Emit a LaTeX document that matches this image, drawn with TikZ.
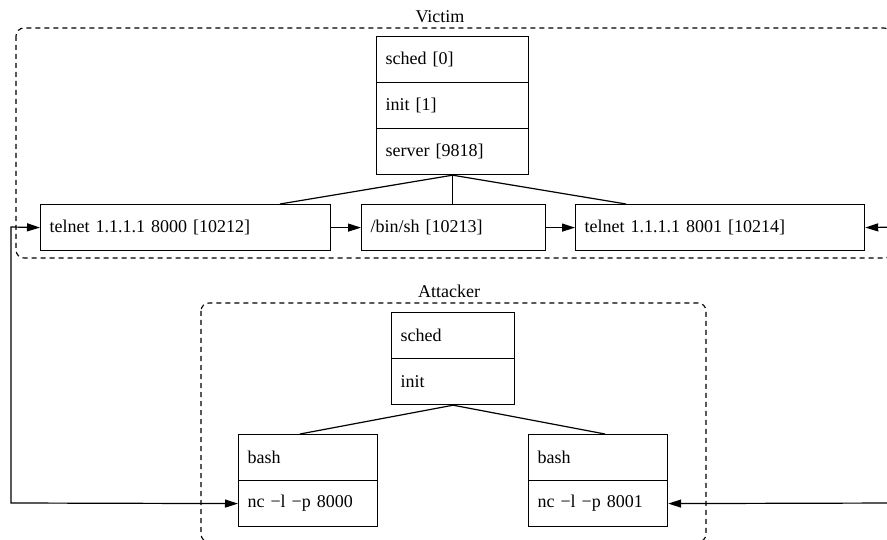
\documentclass[tikz,border=0pt]{standalone}
\usepackage{fontspec}
\setmainfont{Liberation Serif}
\usetikzlibrary{arrows.meta}
\tikzset{
  recbox/.style={draw, line width=1.2pt, rectangle, anchor=north west, inner xsep=9pt, inner ysep=0pt,
    minimum height=46pt, align=left, font=\fontsize{18}{20}\selectfont},
  cluster/.style={draw, line width=1.1pt, dash pattern=on 5pt off 4pt, rounded corners=8pt},
  clabel/.style={font=\fontsize{18}{20}\selectfont, inner sep=0pt},
  tree/.style={line width=1.2pt},
  tip/.style={},
  flow/.style={line width=1.2pt, -{Triangle[length=13pt,width=8pt]}},
  flow2/.style={line width=1.2pt, {Triangle[length=13pt,width=8pt]}-{Triangle[length=13pt,width=8pt]}}
}
\begin{document}
\begin{tikzpicture}[x=1pt,y=-1pt]
\useasboundingbox (0,0) rectangle (887,540);
\clip (0,0) rectangle (887,540);
\fill[white] (0,0) rectangle (887,540);
% clusters
\draw[cluster] (16,28) rectangle (892,258);
\node[clabel] (victim) at (440,17) {Victim};
\draw[cluster] (201,303) rectangle (706,542);
\node[clabel] (attacker) at (449,291) {Attacker};
% victim processes
\node[recbox, text width=134pt] (vsched) at (376,36) {sched [0]};
\node[recbox, text width=134pt] (vinit) at (376,82) {init [1]};
\node[recbox, text width=134pt] (vserver) at (376,128) {server [9818]};
\node[recbox, text width=272pt] (t0) at (40,204) {telnet 1.1.1.1 8000 [10212]};
\node[recbox, text width=166pt] (sh) at (361,204) {/bin/sh [10213]};
\node[recbox, text width=271pt] (t1) at (575,204) {telnet 1.1.1.1 8001 [10214]};
% attacker processes
\node[recbox, text width=105pt] (asched) at (391,312) {sched};
\node[recbox, text width=105pt] (ainit) at (391,358) {init};
\node[recbox, text width=121pt] (bash0) at (238,434) {bash};
\node[recbox, text width=121pt] (nc0) at (238,480) {nc −l −p 8000};
\node[recbox, text width=121pt] (bash1) at (528,434) {bash};
\node[recbox, text width=121pt] (nc1) at (528,480) {nc −l −p 8001};
% tree edges
\draw[tree] (vserver.south) -- (t0.north -| 280,0);
\draw[tree] (vserver.south) -- (vserver.south |- sh.north);
\draw[tree] (vserver.south) -- (t1.north -| 626,0);
\draw[tree] (ainit.south) -- (bash0.north -| 300,0);
\draw[tree] (ainit.south) -- (bash1.north -| 605,0);
% data flows
\draw[flow] (t0) -- (sh);
\draw[flow] (sh) -- (t1);
\coordinate (lc1) at (11,227);
\coordinate (lc2) at (11,503);
\coordinate (rc1) at (900,227);
\coordinate (rc2) at (900,503);
\draw[flow2] (t0.west) -- (lc1) -- (lc2) -- (nc0.west);
\draw[flow2] (t1.east) -- (rc1) -- (rc2) -- (nc1.east);
\end{tikzpicture}
\end{document}
